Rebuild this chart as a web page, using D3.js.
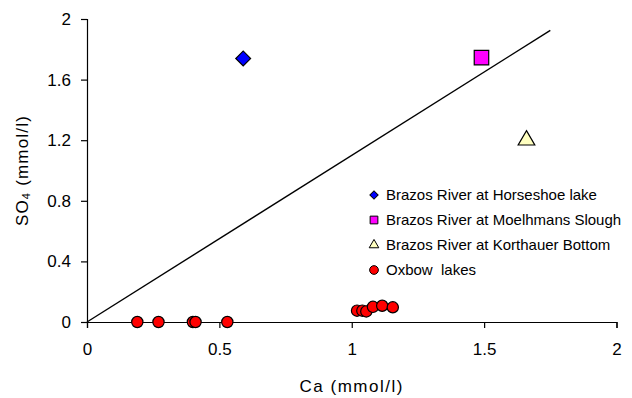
<!DOCTYPE html>
<html>
<head>
 <meta charset="utf-8"/>
 <script src="https://d3js.org/d3.v7.min.js"></script>
 <style>
  body { margin: 0; background: #fff; }
  text { font-family: Arial, "Liberation Sans", sans-serif; fill: #000; }
 </style>
</head>
<body>
 <div id="graph"></div>
 <script type="text/javascript">
   // Ca vs SO4 (mmol/l)
   var xTicks = [0, 0.5, 1, 1.5, 2];
   var yTicks = [0, 0.4, 0.8, 1.2, 1.6, 2];
   var horseshoeCa = [0.59], horseshoeSO4 = [1.74];
   var moelhmansCa = [1.49], moelhmansSO4 = [1.745];
   var korthauerCa = [1.66], korthauerSO4 = [1.2];
   var oxbowCa  = [0.19, 0.27, 0.40, 0.41, 0.53, 1.02, 1.04, 1.055, 1.08, 1.115, 1.155];
   var oxbowSO4 = [0, 0, 0, 0, 0, 0.075, 0.075, 0.07, 0.10, 0.107, 0.097];
   var lineCa = [0, 1.75], lineSO4 = [0, 1.925];
   var legendNames = ["Brazos River at Horseshoe lake", "Brazos River at Moelhmans Slough",
                      "Brazos River at Korthauer Bottom", "Oxbow  lakes"];

   var width = 632, height = 398;
   var svg = d3.select("#graph").append("svg")
               .attr("width", width).attr("height", height);

   var xScale = d3.scaleLinear().domain([0, 2]).range([87, 616.5]);
   var yScale = d3.scaleLinear().domain([0, 2]).range([322, 19]);

   // axes
   var xAxis = d3.axisBottom(xScale).tickValues(xTicks).tickSize(6).tickPadding(15)
                 .tickFormat(function(d){ return d; });
   var yAxis = d3.axisLeft(yScale).tickValues(yTicks).tickSize(6).tickPadding(10)
                 .tickFormat(function(d){ return d; });
   var gx = svg.append("g").attr("transform", "translate(0," + yScale(0) + ")").call(xAxis);
   var gy = svg.append("g").attr("transform", "translate(" + xScale(0) + ",0)").call(yAxis);
   [gx, gy].forEach(function(g){
     g.select(".domain").attr("stroke", "#000").attr("stroke-width", 1.2);
     g.selectAll(".tick line").attr("stroke", "#000").attr("stroke-width", 1.2);
     g.selectAll(".tick text").attr("font-size", 17).attr("fill", "#000")
      .attr("font-family", "Arial, 'Liberation Sans', sans-serif");
   });

   // axis titles
   svg.append("text").attr("x", xScale(1)).attr("y", 392)
      .attr("text-anchor", "middle").attr("font-size", 17).attr("letter-spacing", 1.5)
      .text("Ca (mmol/l)");
   var yt = svg.append("text").attr("transform", "translate(28," + ((yScale(0) + yScale(2)) / 2) + ") rotate(-90)")
      .attr("text-anchor", "middle").attr("font-size", 17).attr("letter-spacing", 1.2);
   yt.append("tspan").text("SO");
   yt.append("tspan").attr("font-size", 11).attr("dy", 2).text("4");
   yt.append("tspan").attr("dy", -2).text(" (mmol/l)");

   // reference line
   var d3line = d3.line().x(function(d){ return xScale(d[0]); }).y(function(d){ return yScale(d[1]); });
   svg.append("path").datum(d3.zip(lineCa, lineSO4)).attr("d", d3line)
      .attr("fill", "none").attr("stroke", "#000").attr("stroke-width", 1.4);

   function drawPoints(xs, ys, type, size, fill, rot) {
     svg.append("g").selectAll("path").data(d3.zip(xs, ys)).enter().append("path")
        .attr("d", d3.symbol().type(type).size(size))
        .attr("transform", function(d){
          return "translate(" + xScale(d[0]) + "," + yScale(d[1]) + ")" + (rot ? " rotate(45)" : "");
        })
        .attr("fill", fill).attr("stroke", "#000").attr("stroke-width", 1.2);
   }
   drawPoints(horseshoeCa, horseshoeSO4, d3.symbolSquare, 110, "#0000ff", true);
   drawPoints(moelhmansCa, moelhmansSO4, d3.symbolSquare, 210, "#ff00ff", false);
   drawPoints(korthauerCa, korthauerSO4, d3.symbolTriangle, 120, "#ffffc0", false);
   drawPoints(oxbowCa, oxbowSO4, d3.symbolCircle, 100, "#ff0000", false);

   // legend
   var legendSymbols = [
     {type: d3.symbolSquare, size: 34, fill: "#0000ff", rot: true},
     {type: d3.symbolSquare, size: 60, fill: "#ff00ff", rot: false},
     {type: d3.symbolTriangle, size: 40, fill: "#ffffc0", rot: false},
     {type: d3.symbolCircle, size: 60, fill: "#ff0000", rot: false}
   ];
   var legend = svg.append("g").selectAll("g").data(legendNames).enter().append("g")
      .attr("transform", function(d, i){ return "translate(374," + (195 + i * 25) + ")"; });
   legend.append("path")
      .attr("d", function(d, i){ return d3.symbol().type(legendSymbols[i].type).size(legendSymbols[i].size)(); })
      .attr("transform", function(d, i){ return legendSymbols[i].rot ? "rotate(45)" : null; })
      .attr("fill", function(d, i){ return legendSymbols[i].fill; })
      .attr("stroke", "#000").attr("stroke-width", 1);
   legend.append("text").attr("x", 12).attr("dy", "0.36em").attr("font-size", 15)
      .style("white-space", "pre").text(function(d){ return d; });
 </script>
</body>
</html>
